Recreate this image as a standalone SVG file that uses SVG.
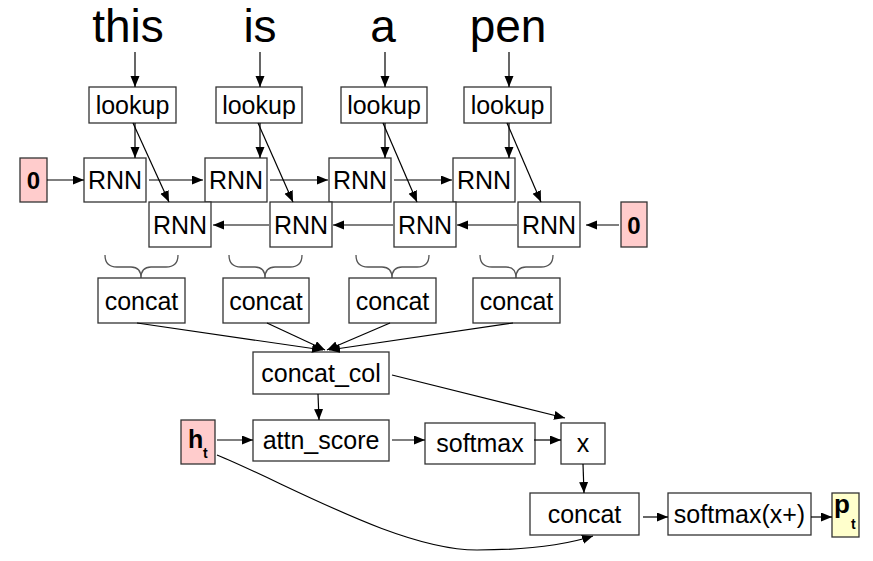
<svg xmlns="http://www.w3.org/2000/svg" width="873" height="561" viewBox="0 0 873 561">
<defs>
<marker id="ah" markerUnits="userSpaceOnUse" markerWidth="12" markerHeight="10" refX="11" refY="4.5" orient="auto">
<path d="M0,0 L11,4.5 L0,9 z" fill="#000"/>
</marker>
<style>
.b{fill:#fff;stroke:#333;stroke-width:1.3}
.r{fill:#ffcccc;stroke:#333;stroke-width:1.3}
.y{fill:#ffffcc;stroke:#333;stroke-width:1.3}
.t{font-family:"Liberation Sans",Arial,sans-serif;font-size:25px;fill:#000;text-anchor:middle}
.w{font-family:"Liberation Sans",Arial,sans-serif;font-size:46px;fill:#000;text-anchor:middle}
.bd{font-family:"Liberation Sans",Arial,sans-serif;font-weight:bold;fill:#000}
.c line,.c path{stroke:#000;stroke-width:1.2;fill:none;marker-end:url(#ah)}
.br{stroke:#555;stroke-width:1.3;fill:none}
</style>
</defs>
<rect width="873" height="561" fill="#fff"/>

<g id="words">
<text class="w" x="128" y="42">this</text>
<text class="w" x="260" y="42">is</text>
<text class="w" x="383" y="42">a</text>
<text class="w" x="508" y="42">pen</text>
</g>

<g id="lookup1"><rect class="b" x="89" y="87" width="87" height="36"/><text class="t" x="132.5" y="114">lookup</text></g>
<g id="lookup2"><rect class="b" x="216" y="87" width="86" height="36"/><text class="t" x="259" y="114">lookup</text></g>
<g id="lookup3"><rect class="b" x="341" y="87" width="86" height="36"/><text class="t" x="384" y="114">lookup</text></g>
<g id="lookup4"><rect class="b" x="464" y="87" width="87" height="36"/><text class="t" x="507.5" y="114">lookup</text></g>

<g id="zero-left"><rect class="r" x="20" y="158" width="27" height="44"/><text class="bd" x="33.5" y="189" font-size="24" text-anchor="middle">0</text></g>
<g id="zero-right"><rect class="r" x="621" y="202" width="26" height="45"/><text class="bd" x="634" y="234" font-size="24" text-anchor="middle">0</text></g>

<g id="rnnf1"><rect class="b" x="84" y="158" width="62" height="44"/><text class="t" x="115" y="189">RNN</text></g>
<g id="rnnf2"><rect class="b" x="205" y="158" width="62" height="44"/><text class="t" x="236" y="189">RNN</text></g>
<g id="rnnf3"><rect class="b" x="329" y="158" width="62" height="44"/><text class="t" x="360" y="189">RNN</text></g>
<g id="rnnf4"><rect class="b" x="453" y="158" width="62" height="44"/><text class="t" x="484" y="189">RNN</text></g>

<g id="rnnb1"><rect class="b" x="149" y="202" width="62" height="45"/><text class="t" x="180" y="234">RNN</text></g>
<g id="rnnb2"><rect class="b" x="270" y="202" width="62" height="45"/><text class="t" x="301" y="234">RNN</text></g>
<g id="rnnb3"><rect class="b" x="394" y="202" width="62" height="45"/><text class="t" x="425" y="234">RNN</text></g>
<g id="rnnb4"><rect class="b" x="518" y="202" width="62" height="45"/><text class="t" x="549" y="234">RNN</text></g>

<g id="braces">
<path class="br" d="M105,255 Q105,267 117,267 L131,267 Q141,267 141,278 Q141,267 151,267 L166,267 Q178,267 178,255"/>
<path class="br" d="M229,255 Q229,267 241,267 L255,267 Q265,267 265,278 Q265,267 275,267 L290,267 Q302,267 302,255"/>
<path class="br" d="M356,255 Q356,267 368,267 L382,267 Q392,267 392,278 Q392,267 402,267 L417,267 Q429,267 429,255"/>
<path class="br" d="M480,255 Q480,267 492,267 L506,267 Q516,267 516,278 Q516,267 526,267 L541,267 Q553,267 553,255"/>
</g>

<g id="concat1"><rect class="b" x="98" y="278" width="87" height="45"/><text class="t" x="141.5" y="310">concat</text></g>
<g id="concat2"><rect class="b" x="223" y="278" width="86" height="45"/><text class="t" x="266" y="310">concat</text></g>
<g id="concat3"><rect class="b" x="349" y="278" width="87" height="45"/><text class="t" x="392.5" y="310">concat</text></g>
<g id="concat4"><rect class="b" x="473" y="278" width="87" height="45"/><text class="t" x="516.5" y="310">concat</text></g>

<g id="concat_col"><rect class="b" x="253" y="352" width="136" height="42"/><text class="t" x="321" y="382">concat_col</text></g>

<g id="ht"><rect class="r" x="181" y="420" width="34" height="44"/><text class="bd" x="188" y="448" font-size="25">h</text><text class="bd" x="203" y="458" font-size="14">t</text></g>
<g id="attn_score"><rect class="b" x="253" y="420" width="136" height="41"/><text class="t" x="321" y="449">attn_score</text></g>
<g id="softmax"><rect class="b" x="425" y="423" width="110" height="41"/><text class="t" x="480" y="452">softmax</text></g>
<g id="x"><rect class="b" x="561" y="423" width="44" height="41"/><text class="t" x="583" y="452">x</text></g>
<g id="concat_out"><rect class="b" x="530" y="493" width="109" height="42"/><text class="t" x="584.5" y="523">concat</text></g>
<g id="softmax_xp"><rect class="b" x="668" y="493" width="143" height="42"/><text class="t" x="739.5" y="523">softmax(x+)</text></g>
<g id="pt"><rect class="y" x="832" y="493" width="27" height="44"/><text class="bd" x="834" y="513" font-size="26">p</text><text class="bd" x="851" y="529" font-size="14">t</text></g>

<g id="connectors" class="c">
<line x1="135" y1="52" x2="135" y2="87"/>
<line x1="260" y1="52" x2="260" y2="87"/>
<line x1="385" y1="52" x2="385" y2="87"/>
<line x1="509" y1="52" x2="509" y2="87"/>
<line x1="135" y1="123" x2="135" y2="158"/>
<line x1="260" y1="123" x2="260" y2="158"/>
<line x1="385" y1="123" x2="385" y2="158"/>
<line x1="509" y1="123" x2="509" y2="158"/>
<line x1="133" y1="123" x2="169" y2="202"/>
<line x1="258" y1="123" x2="293" y2="202"/>
<line x1="383" y1="123" x2="417" y2="202"/>
<line x1="507" y1="123" x2="541" y2="202"/>
<line x1="47" y1="180" x2="84" y2="180"/>
<line x1="149" y1="180" x2="203" y2="180"/>
<line x1="270" y1="180" x2="328" y2="180"/>
<line x1="394" y1="180" x2="452" y2="180"/>
<line x1="619" y1="225" x2="586" y2="225"/>
<line x1="517" y1="225" x2="457" y2="225"/>
<line x1="393" y1="225" x2="333" y2="225"/>
<line x1="269" y1="225" x2="213" y2="225"/>
<line x1="137" y1="323" x2="323" y2="350"/>
<line x1="267" y1="323" x2="325" y2="350"/>
<line x1="390" y1="323" x2="327" y2="350"/>
<line x1="513" y1="323" x2="329" y2="350"/>
<line x1="318" y1="394" x2="319" y2="420"/>
<line x1="392" y1="375" x2="565" y2="418"/>
<line x1="217" y1="440" x2="253" y2="440"/>
<line x1="392" y1="440" x2="425" y2="440"/>
<line x1="534" y1="440" x2="561" y2="440"/>
<line x1="583" y1="464" x2="584" y2="493"/>
<line x1="643" y1="517" x2="668" y2="517"/>
<line x1="811" y1="517" x2="832" y2="517"/>
<path d="M217,455 C290,485 400,550 477,550 C530,550 565,545 593,536"/>
</g>
</svg>
